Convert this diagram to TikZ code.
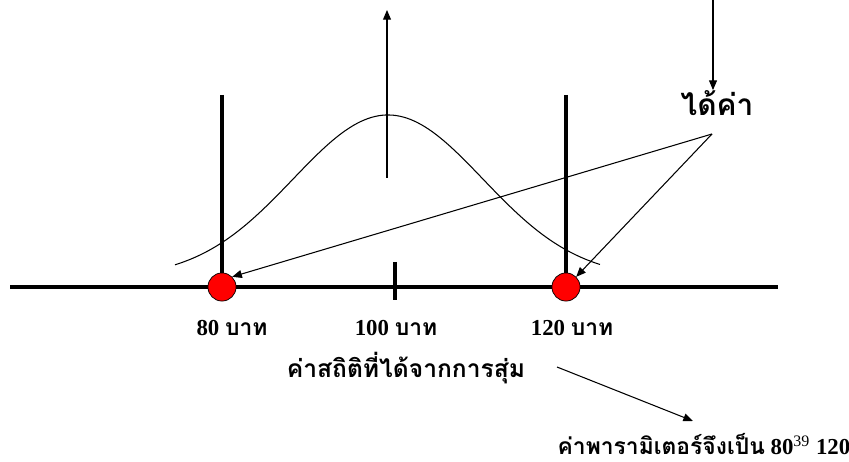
\documentclass[tikz,border=0pt]{standalone}
\usepackage{fontspec}
\setmainfont{Liberation Serif}
\newfontfamily\thaifont[Script=Thai]{Loma}
\newcommand{\thai}[1]{{\thaifont #1}}
\usetikzlibrary{arrows.meta}

\begin{document}
\begin{tikzpicture}[x=0.02cm,y=-0.02cm,
  axis/.style={line width=2.8pt},
  dot/.style={circle,draw,fill=red,minimum size=16pt,inner sep=0pt,line width=0.4pt},
  pointer/.style={line width=0.6pt,-{Triangle[length=5.5pt,width=4.5pt]}},
  lbl/.style={font=\fontsize{13}{15}\selectfont\bfseries,inner sep=0pt},
]
\useasboundingbox (0,0) rectangle (849,462);
\coordinate (axl) at (10,287);
\coordinate (axr) at (778,287);
\coordinate (top80) at (222,95);
\coordinate (top120) at (566,95);
\coordinate (tk1) at (395,262);
\coordinate (tk2) at (395,300);
\draw[axis] (axl) -- (axr);
\draw[axis] (tk1) -- (tk2);
\node[dot] (c80) at (222,287) {};
\node[dot] (c120) at (566,287) {};
\draw[axis] (top80) -- (c80.north);
\draw[axis] (top120) -- (c120.north);
\draw[line width=0.6pt] plot[domain=175:600,samples=120,smooth]
  (\x,{115+163*(1-exp(-((\x-388)/100)^2/1.805))});

\coordinate (upfrom) at (387,178);
\coordinate (upto) at (387,10);
\draw[pointer] (upfrom) -- (upto);
\coordinate (downfrom) at (713,0);
\node[lbl,font=\fontsize{17}{19}\selectfont\bfseries] (dai) at (717,103) {\thai{ได้ค่า}};
\draw[pointer] (downfrom) -- (downfrom |- dai.north);
\coordinate (src) at (712,134);
\draw[pointer] (src) -- (c80.north east);
\draw[pointer] (src) -- (c120.north east);

\node[lbl] (l80) at (232,328) {80 \thai{บาท}};
\node[lbl] (l100) at (396,328) {100 \thai{บาท}};
\node[lbl] (l120) at (572,328) {120 \thai{บาท}};
\node[lbl,font=\fontsize{14}{16}\selectfont\bfseries] (stat) at (406,368) {\thai{ค่าสถิติที่ได้จากการสุ่ม}};
\node[lbl] (param) at (704,444) {\thai{ค่าพารามิเตอร์จึงเป็น} 80\textsuperscript{\normalfont 39} 120};
\coordinate (from) at (557,367);
\coordinate (to) at (693,421);
\draw[pointer] (from) -- (to);
\end{tikzpicture}
\end{document}
